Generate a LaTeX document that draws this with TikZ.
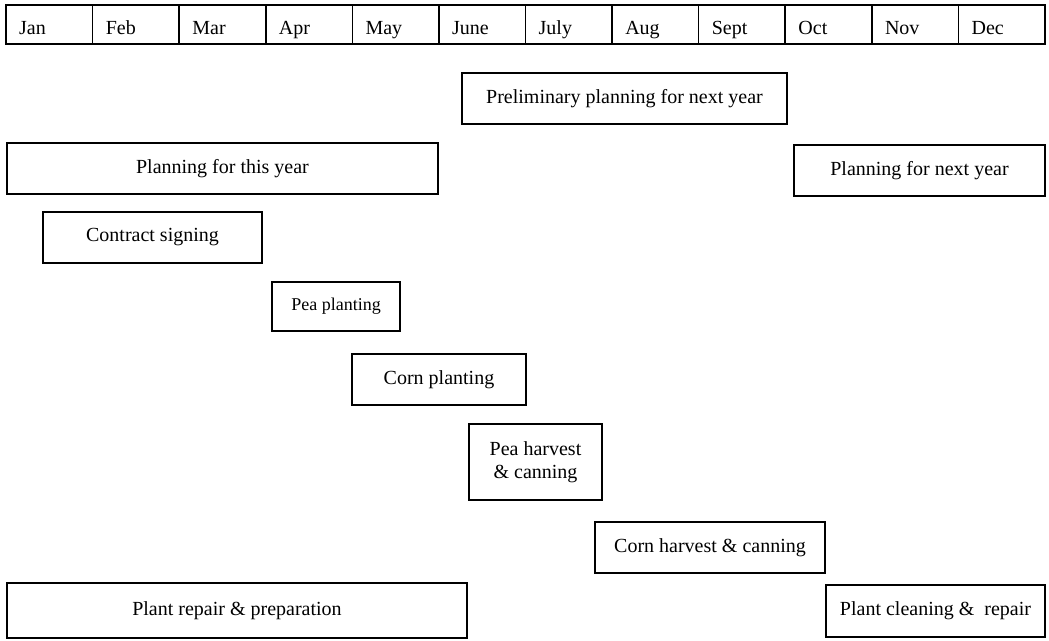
\documentclass[tikz,border=0pt]{standalone}
\usepackage{fontspec}
\setmainfont{Liberation Serif}
\usepackage{tikz}
\usetikzlibrary{positioning}

\begin{document}
\begin{tikzpicture}[x=1pt, y=-1pt,
  task/.style={draw, line width=1.6pt, inner sep=0pt, align=center,
    font=\fontsize{20}{23}\selectfont},
  month/.style={anchor=base west, inner sep=0pt, font=\fontsize{20}{23}\selectfont}]
\useasboundingbox (0,0) rectangle (1049,640);

% month bar
\draw[line width=1.6pt] (6,5) rectangle (1045,44);
\foreach \m [count=\i from 0] in {Jan,Feb,Mar,Apr,May,June,July,Aug,Sept,Oct,Nov,Dec}{
  \ifnum\i>0 \draw[line width=1.6pt] ({6+\i*86.58},5) -- ({6+\i*86.58},44); \fi
  \node[month] (m\i) at ({6+\i*86.58+13},34) {\m};
}

% activities
\node[task, minimum width=325pt, minimum height=51pt] (prelim) at (624.5,98.5) {Preliminary planning for next year};
\node[task, minimum width=431pt, minimum height=51pt] (thisyear) at (222.5,168.5) {Planning for this year};
\node[task, minimum width=251pt, minimum height=51pt] (nextyear) at (919.5,170.5) {Planning for next year};
\node[task, minimum width=219pt, minimum height=51pt] (contract) at (152.5,237.5) {Contract signing};
\node[task, minimum width=128pt, minimum height=49pt, font=\fontsize{18}{21}\selectfont] (peaplant) at (336,306.5) {Pea planting};
\node[task, minimum width=174pt, minimum height=51pt] (cornplant) at (439,379.5) {Corn planting};
\node[task, minimum width=133pt, minimum height=76pt] (peaharv) at (535.5,462) {Pea harvest\\\& canning};
\node[task, minimum width=230pt, minimum height=51pt] (cornharv) at (710,547.5) {Corn harvest \& canning};
\node[task, minimum width=219pt, minimum height=52pt] (cleaning) at (935.5,611) {Plant cleaning \&~~repair};
\node[task, minimum width=460pt, minimum height=55pt] (repair) at (237,610.5) {Plant repair \& preparation};
\end{tikzpicture}
\end{document}
